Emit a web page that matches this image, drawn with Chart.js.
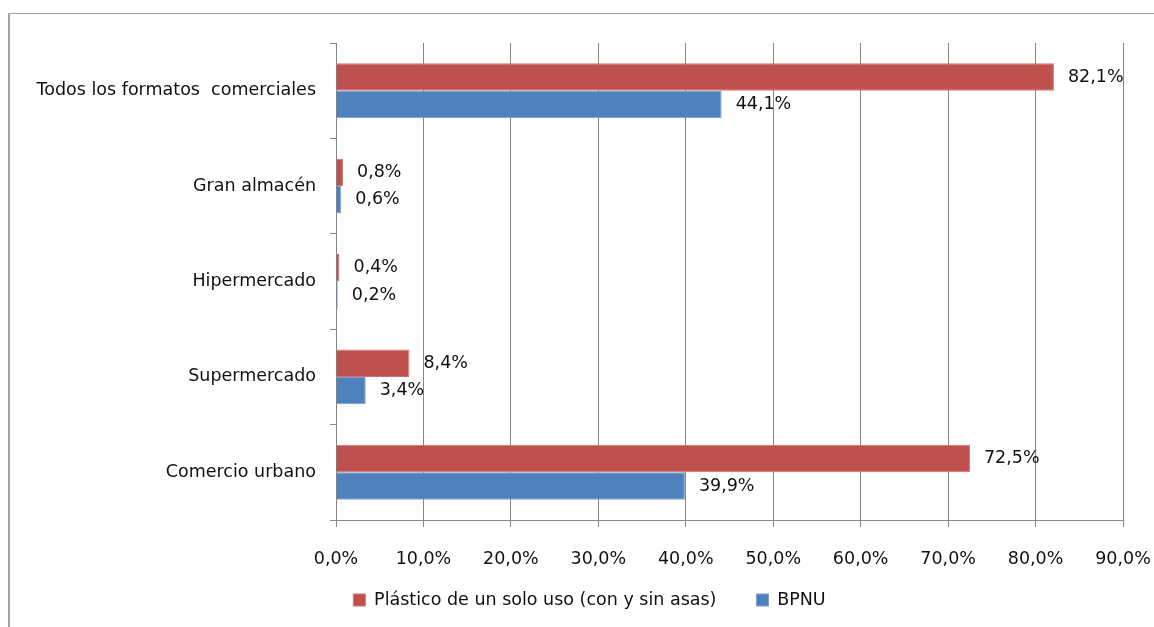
<!DOCTYPE html>
<html>
<head>
<meta charset="utf-8">
<script src="https://cdn.jsdelivr.net/npm/chart.js@4/dist/chart.umd.min.js"></script>
<style>
  html, body { margin: 0; padding: 0; background: #ffffff; }
  #wrap { position: relative; width: 1154px; height: 627px; overflow: hidden; }
  #frame { position: absolute; left: 8px; top: 13px; width: 1400px; height: 900px;
           border-left: 2px solid #a3a3a3; border-top: 1px solid #a3a3a3; box-sizing: border-box; }
  canvas { position: absolute; left: 0; top: 0; }
</style>
</head>
<body>
<div id="wrap">
  <div id="frame"></div>
  <canvas id="c" width="1154" height="627"></canvas>
</div>
<script>
const categories = ["Todos los formatos  comerciales", "Gran almacén", "Hipermercado", "Supermercado", "Comercio urbano"];
const seriesNames = ["Plástico de un solo uso (con y sin asas)", "BPNU"];
const plasticoValues = [82.1, 0.8, 0.4, 8.4, 72.5];
const bpnuValues = [44.1, 0.6, 0.2, 3.4, 39.9];
const xTickMin = 0, xTickMax = 90, xTickStep = 10;

const FONT = { family: "'DejaVu Sans', sans-serif", size: 17.5 };
const TEXT = '#111111';
const GRID = '#868686';

function fmt(v) { return v.toFixed(1).replace('.', ',') + '%'; }

const valueLabels = {
  id: 'valueLabels',
  afterDatasetsDraw(chart) {
    const ctx = chart.ctx;
    ctx.save();
    ctx.font = FONT.size + 'px ' + FONT.family;
    ctx.fillStyle = TEXT;
    ctx.textAlign = 'left';
    ctx.textBaseline = 'middle';
    chart.data.datasets.forEach((ds, di) => {
      const meta = chart.getDatasetMeta(di);
      meta.data.forEach((bar, i) => {
        ctx.fillText(fmt(ds.data[i]), bar.x + 14, bar.y);
      });
    });
    ctx.restore();
  }
};

// shift the legend box so it sits where the reference places it
const legendShift = {
  id: 'legendShift',
  afterLayout(chart) {
    const lg = chart.legend;
    if (!lg) return;
    const dx = 28, dy = -15.75;
    lg.left += dx; lg.right += dx;
    lg.top += dy; lg.bottom += dy;
  }
};

new Chart(document.getElementById('c'), {
  type: 'bar',
  data: {
    labels: categories,
    datasets: [
      { label: seriesNames[0], data: plasticoValues, backgroundColor: '#C0504D', borderColor: '#CD7472', borderWidth: 1,
        categoryPercentage: 0.575, barPercentage: 1.0 },
      { label: seriesNames[1], data: bpnuValues, backgroundColor: '#4F81BD', borderColor: '#7A9FCC', borderWidth: 1,
        categoryPercentage: 0.575, barPercentage: 1.0 }
    ]
  },
  options: {
    indexAxis: 'y',
    responsive: false,
    animation: false,
    layout: { padding: { left: 0, right: 31, top: 43, bottom: 0 } },
    scales: {
      x: {
        min: xTickMin, max: xTickMax,
        afterFit(scale) { scale.height = 47; scale.paddingLeft = 0; scale.paddingRight = 0; },
        ticks: { stepSize: xTickStep, color: TEXT, font: FONT, padding: 22, maxRotation: 0, callback: v => fmt(v) },
        grid: { color: GRID, lineWidth: 1, tickLength: 7, drawOnChartArea: true },
        border: { color: GRID, width: 1 }
      },
      y: {
        afterFit(scale) { scale.width = 336; },
        ticks: { color: TEXT, font: FONT, padding: 14 },
        grid: { color: GRID, lineWidth: 1, tickLength: 6, drawOnChartArea: false, offset: true },
        border: { color: GRID, width: 1 }
      }
    },
    plugins: {
      legend: {
        position: 'bottom',
        maxHeight: 60,
        labels: { boxWidth: 12, boxHeight: 12, padding: 40, color: TEXT, font: FONT, useBorderRadius: false }
      },
      tooltip: { enabled: false }
    }
  },
  plugins: [valueLabels, legendShift]
});
</script>
</body>
</html>
